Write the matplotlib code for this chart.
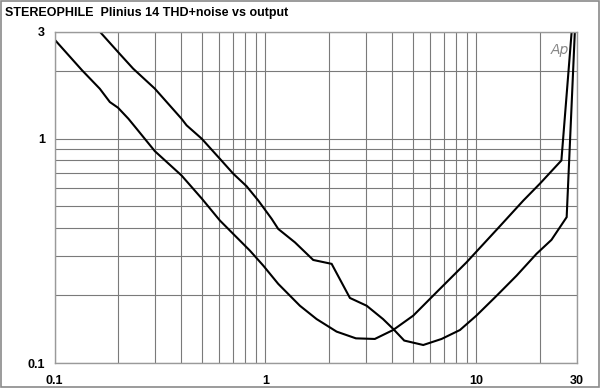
import numpy as np
import matplotlib
matplotlib.use("Agg")
import matplotlib.pyplot as plt
from matplotlib.patches import Rectangle
from matplotlib.ticker import FixedLocator, NullFormatter

# output power (W) vs THD+N (%)
x1 = [0.1, 0.135, 0.164, 0.183, 0.2, 0.224, 0.245, 0.299, 0.40, 0.50, 0.608,
      0.844, 0.976, 1.15, 1.457, 1.748, 2.175, 2.685, 3.30, 4.03, 5.02, 6.47,
      8.98, 12.7, 16.7, 20.0, 25.3, 28.3]
y1 = [2.77, 2.02, 1.67, 1.457, 1.375, 1.228, 1.108, 0.88, 0.686, 0.540, 0.432,
      0.317, 0.272, 0.2253, 0.180, 0.157, 0.138, 0.1288, 0.128, 0.1403, 0.1626,
      0.2066, 0.281, 0.40, 0.530, 0.63, 0.80, 3.0]

x2 = [0.164, 0.2, 0.236, 0.299, 0.40, 0.423, 0.499, 0.608, 0.704, 0.814,
      0.925, 1.07, 1.15, 1.38, 1.685, 2.06, 2.515, 3.02, 3.61, 4.03, 4.55,
      5.6, 6.84, 8.36, 10.0, 12.5, 15.5, 19.3, 22.7, 26.8, 29.3]
y2 = [3.0, 2.436, 2.053, 1.672, 1.228, 1.147, 1.0, 0.814, 0.698, 0.614,
      0.530, 0.4395, 0.396, 0.345, 0.288, 0.2767, 0.195, 0.180, 0.157, 0.142,
      0.1259, 0.1203, 0.128, 0.1403, 0.1626, 0.1998, 0.245, 0.307, 0.354,
      0.447, 3.0]

xticks = [0.1, 1, 10, 30]
xticklabels = ["0.1", "1", "10", "30"]
yticks = [0.1, 1, 3]
yticklabels = ["0.1", "1", "3"]
xminor = [0.2, 0.3, 0.4, 0.5, 0.6, 0.7, 0.8, 0.9, 2, 3, 4, 5, 6, 7, 8, 9, 20]
yminor = [0.2, 0.3, 0.4, 0.5, 0.6, 0.7, 0.8, 0.9, 2]

plt.rcParams['font.family'] = ['Liberation Sans', 'DejaVu Sans']

fig = plt.figure(figsize=(6, 3.88), dpi=100)
ax = fig.add_axes([54.5 / 600, 1 - 363 / 388, (577 - 54.5) / 600, (363 - 31.7) / 388])

ax.set_xscale('log')
ax.set_yscale('log')
ax.set_xlim(0.1, 30)
ax.set_ylim(0.1, 3)

ax.plot(x1, y1, color='black', lw=1.5, solid_joinstyle='miter')
ax.plot(x2, y2, color='black', lw=1.5, solid_joinstyle='miter')

ax.xaxis.set_major_locator(FixedLocator(xticks))
ax.set_xticklabels(xticklabels, fontweight='bold', fontsize=9)
ax.xaxis.set_minor_locator(FixedLocator(xminor))
ax.xaxis.set_minor_formatter(NullFormatter())
ax.yaxis.set_major_locator(FixedLocator(yticks))
ax.set_yticklabels(yticklabels, fontweight='bold', fontsize=9)
ax.yaxis.set_minor_locator(FixedLocator(yminor))
ax.yaxis.set_minor_formatter(NullFormatter())

ax.tick_params(which='both', length=0)
ax.tick_params(axis='x', pad=9)
ax.tick_params(axis='y', pad=7)
ax.grid(True, which='both', color='#7a7a7a', lw=0.8)
ax.set_axisbelow(True)
for s in ax.spines.values():
    s.set_color('#9a9a9a')
    s.set_linewidth(1.0)

ax.text(0.985, 0.965, "Ap", transform=ax.transAxes, ha='right', va='top',
        fontsize=10, fontstyle='italic', color='#888888', fontfamily='DejaVu Sans',
        fontweight='light')

fig.text(5 / 600, 1 - 13 / 388, "STEREOPHILE  Plinius 14 THD+noise vs output",
         fontsize=9, fontweight='bold', va='center', ha='left')

fig.add_artist(Rectangle((0.002, 0.002), 0.996, 0.996, transform=fig.transFigure,
                         fill=False, edgecolor='#8a8a8a', lw=1.2))

fig.savefig('out.png', dpi=100)
